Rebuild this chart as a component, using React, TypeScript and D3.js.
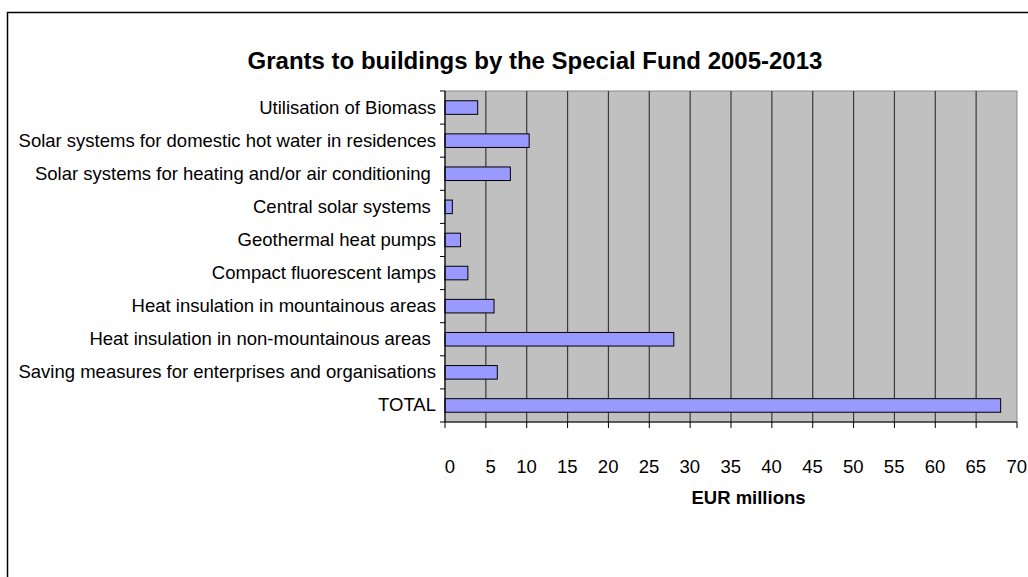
import React from "react";
import * as d3 from "d3";

const categories = [
  "Utilisation of Biomass",
  "Solar systems for domestic hot water in residences",
  "Solar systems for heating and/or air conditioning ",
  "Central solar systems ",
  "Geothermal heat pumps",
  "Compact fluorescent lamps",
  "Heat insulation in mountainous areas",
  "Heat insulation in non-mountainous areas ",
  "Saving measures for enterprises and organisations",
  "TOTAL",
];
const values = [4.0, 10.3, 8.0, 0.9, 1.9, 2.8, 6.0, 28.0, 6.4, 68.0];
const xTicks = [0, 5, 10, 15, 20, 25, 30, 35, 40, 45, 50, 55, 60, 65, 70];
const title = "Grants to buildings by the Special Fund 2005-2013";
const xTitle = "EUR millions";

export default function App() {
  const W = 1028, H = 577;
  const left = 445, right = 1017, top = 91, bottom = 422;
  const x = d3.scaleLinear().domain([0, 70]).range([left, right]);
  const y = d3.scaleBand<string>().domain(categories).range([top, bottom]).paddingInner(0.59).paddingOuter(0.295);
  const step = y.step();
  const font = "Arial, 'Liberation Sans', sans-serif";
  return (
    <svg width={W} height={H} style={{ position: "absolute", left: 0, top: 0 }}>
      <rect x={0} y={0} width={W} height={H} fill="#fff" />
      <rect x={7.5} y={12.5} width={W + 20} height={H + 20} fill="none" stroke="#000" strokeWidth={1.5} />
      <text x={535} y={69} textAnchor="middle" fontFamily={font} fontWeight="bold" fontSize={24}>{title}</text>
      <rect x={left} y={top} width={right - left} height={bottom - top} fill="#C0C0C0" stroke="#8a8a8a" strokeWidth={1} />
      {xTicks.slice(1, -1).map(t => (
        <line key={t} x1={x(t)} x2={x(t)} y1={top} y2={bottom} stroke="#3a3a3a" strokeWidth={1.2} />
      ))}
      {categories.map((c, i) => (
        <rect key={c} x={x(0)} y={y(c)!} width={x(values[i]) - x(0)} height={y.bandwidth()}
          fill="#9999FF" stroke="#000" strokeWidth={1} />
      ))}
      <line x1={left} x2={left} y1={top} y2={bottom} stroke="#000" strokeWidth={1.2} />
      <line x1={left} x2={right} y1={bottom} y2={bottom} stroke="#000" strokeWidth={1.2} />
      {d3.range(categories.length + 1).map(i => (
        <line key={i} x1={left - 5} x2={left} y1={top + i * step} y2={top + i * step} stroke="#000" strokeWidth={1} />
      ))}
      {xTicks.map(t => (
        <line key={t} x1={x(t)} x2={x(t)} y1={bottom} y2={bottom + 6} stroke="#000" strokeWidth={1} />
      ))}
      {categories.map(c => (
        <text key={c} x={436} y={y(c)! + y.bandwidth() / 2 + 6} textAnchor="end"
          fontFamily={font} fontSize={18.5} style={{ whiteSpace: "pre" }}>{c}</text>
      ))}
      {xTicks.map(t => (
        <text key={t} x={x(t) + 10} y={473} textAnchor="end" fontFamily={font} fontSize={18.5}>{t}</text>
      ))}
      <text x={748.5} y={504} textAnchor="middle" fontFamily={font} fontWeight="bold" fontSize={18.5}>{xTitle}</text>
    </svg>
  );
}
